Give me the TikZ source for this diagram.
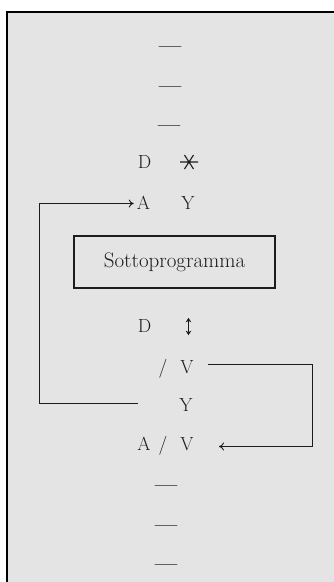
\documentclass[tikz,border=0pt]{standalone}
\usepackage{fontspec}
\usetikzlibrary{arrows.meta}
\definecolor{paper}{RGB}{228,228,228}
\definecolor{ink}{RGB}{28,28,28}
\begin{document}
\begin{tikzpicture}[x=1pt,y=-1pt,
  lett/.style={anchor=base,inner sep=0pt,text=ink,font=\fontsize{19}{19}\selectfont\addfontfeatures{FakeBold=0.6}},
  dashnode/.style={anchor=base,inner sep=0pt,text=ink,font=\fontsize{20}{20}\selectfont\bfseries},
  conn/.style={draw=ink,line width=0.9pt},
  arr/.style={conn,-{To[length=5pt,width=8pt]}},
  frameline/.style={line width=2.6pt,black}]
\useasboundingbox (0,0) rectangle (334,582);
\fill[white] (0,0) rectangle (334,582);
\fill[paper] (7,12) rectangle (334,582);
\draw[frameline] (7,582) -- (7,12) -- (334,12);
% top dashes
\node[dashnode] (d1) at (170,52.5) {---};
\node[dashnode] (d2) at (170,92.5) {---};
\node[dashnode] (d3) at (169,131.5) {---};
% D asterisk row
\node[lett] (D1) at (144.5,168) {D};
\node[inner sep=0pt,minimum size=16pt] (ast) at (189,162) {};
\draw[ink,line width=1.1pt] (180,162) -- (198,162)
  (184.5,155) -- (193.5,169) (193.5,155) -- (184.5,169);
% A Y row
\node[lett] (A1) at (143.5,209.5) {A};
\node[lett] (Y1) at (188,209.5) {Y};
% box
\node[draw=ink,line width=1.1pt,minimum width=201pt,minimum height=52pt,inner sep=0pt,
  text=ink,font=\fontsize{21}{21}\selectfont\addfontfeatures{FakeBold=0.5}] (sub) at (174.5,262) {Sottoprogramma};
% D updown row
\node[lett] (D2) at (144.5,332) {D};
\node[inner sep=0pt,minimum width=6pt,minimum height=17pt] (ud) at (188.5,326.5) {};
\draw[ink,line width=1.4pt,{Stealth[length=4.5pt,width=5.5pt]}-{Stealth[length=4.5pt,width=5.5pt]}]
  (ud.north) -- (ud.south);
% / V row
\node[lett] (S1) at (163,373) {/};
\node[lett] (V1) at (187,373) {V};
% Y row
\node[lett] (Y2) at (186,411) {Y};
% A / V row
\node[lett] (A2) at (144,450) {A};
\node[lett] (S2) at (163,450) {/};
\node[lett] (V2) at (187,450) {V};
% bottom dashes
\node[dashnode] (d4) at (166,491.5) {---};
\node[dashnode] (d5) at (166,531.5) {---};
\node[dashnode] (d6) at (166,570.5) {---};
% connectors
\coordinate (ls) at (138,403);
\coordinate (lc) at (39,403);
\draw[arr,shorten >=3pt] (ls) -- (lc) |- (A1.west |- 0,203.5);
\coordinate (rs) at (208,364.5);
\coordinate (rc) at (312,364.5);
\coordinate (re) at (219,446.5);
\draw[arr] (rs) -- (rc) |- (re);
\end{tikzpicture}
\end{document}
